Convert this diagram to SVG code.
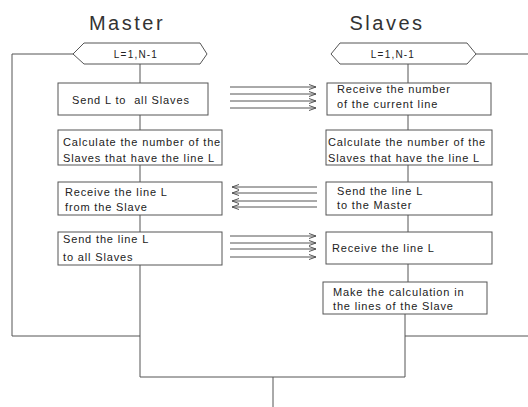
<svg xmlns="http://www.w3.org/2000/svg" width="528" height="407" viewBox="0 0 528 407">
<style>
.box{fill:#fff;stroke:#555;stroke-width:1}
.ln{fill:none;stroke:#555;stroke-width:1}
.ar{fill:none;stroke:#555;stroke-width:1}
.t{font-family:"Liberation Sans",Arial,sans-serif;font-size:11px;fill:#222;letter-spacing:0.85px}
.h{font-family:"Liberation Sans",Arial,sans-serif;font-size:10px;fill:#222;letter-spacing:1.2px}
.title{font-family:"Liberation Sans",Arial,sans-serif;font-size:20px;fill:#333;letter-spacing:2.5px}
</style>
<defs>
<marker id="ah" markerWidth="8" markerHeight="6" refX="7" refY="3" orient="auto" markerUnits="userSpaceOnUse">
<path d="M0,0.5 L7,3 L0,5.5" fill="none" stroke="#555" stroke-width="1"/>
</marker>
</defs>
<rect width="528" height="407" fill="#fff"/>
<text class="title" x="127" y="30" text-anchor="middle">Master</text>
<text class="title" x="387" y="30" text-anchor="middle">Slaves</text>

<g id="connectors">
<polyline class="ln" points="73,54 12,54 12,336 140,336"/>
<line class="ln" x1="140" y1="64" x2="140" y2="83"/>
<line class="ln" x1="140" y1="115" x2="140" y2="130"/>
<line class="ln" x1="140" y1="165" x2="140" y2="182"/>
<line class="ln" x1="140" y1="215" x2="140" y2="232"/>
<polyline class="ln" points="140,265 140,377 405,377"/>
<line class="ln" x1="273" y1="377" x2="273" y2="407"/>
<line class="ln" x1="476" y1="54" x2="528" y2="54"/>
<line class="ln" x1="408" y1="64" x2="408" y2="83"/>
<line class="ln" x1="408" y1="115" x2="408" y2="130"/>
<line class="ln" x1="408" y1="165" x2="408" y2="182"/>
<line class="ln" x1="408" y1="215" x2="408" y2="232"/>
<line class="ln" x1="408" y1="264" x2="408" y2="282"/>
<line class="ln" x1="405" y1="314" x2="405" y2="377"/>
<line class="ln" x1="405" y1="336" x2="528" y2="336"/>
<g class="ar" marker-end="url(#ah)">
<line x1="230" y1="87" x2="316" y2="87"/>
<line x1="230" y1="94" x2="316" y2="94"/>
<line x1="230" y1="101" x2="316" y2="101"/>
<line x1="230" y1="108" x2="316" y2="108"/>
<line x1="317" y1="187" x2="232" y2="187"/>
<line x1="317" y1="193" x2="232" y2="193"/>
<line x1="317" y1="201" x2="232" y2="201"/>
<line x1="317" y1="207" x2="232" y2="207"/>
<line x1="230" y1="236" x2="316" y2="236"/>
<line x1="230" y1="243" x2="316" y2="243"/>
<line x1="230" y1="249" x2="316" y2="249"/>
<line x1="230" y1="257" x2="316" y2="257"/>
</g>
</g>

<g id="m-loop">
<polygon class="box" points="73,54 84,43 200,43 207,54 200,64 84,64"/>
<text class="h" x="136" y="58" text-anchor="middle">L=1,N-1</text>
</g>
<g id="m-send">
<rect class="box" x="58" y="83" width="150" height="32"/>
<text class="t" x="72" y="104" xml:space="preserve">Send L to  all Slaves</text>
</g>
<g id="m-calc">
<rect class="box" x="58" y="130" width="164" height="35"/>
<text class="t" x="63" y="146">Calculate the number of the</text>
<text class="t" x="63" y="162">Slaves that have the line L</text>
</g>
<g id="m-recv">
<rect class="box" x="58" y="182" width="164" height="33"/>
<text class="t" x="65" y="196">Receive the line L</text>
<text class="t" x="65" y="211">from the Slave</text>
</g>
<g id="m-sendline">
<rect class="box" x="58" y="232" width="164" height="33"/>
<text class="t" x="63" y="243">Send the line L</text>
<text class="t" x="63" y="261">to all Slaves</text>
</g>

<g id="s-loop">
<polygon class="box" points="331,54 340,43 467,43 476,54 467,64 340,64"/>
<text class="h" x="393" y="58" text-anchor="middle">L=1,N-1</text>
</g>
<g id="s-recvnum">
<rect class="box" x="327" y="83" width="164" height="32"/>
<text class="t" x="337" y="93">Receive the number</text>
<text class="t" x="337" y="108">of the current line</text>
</g>
<g id="s-calc">
<rect class="box" x="326" y="130" width="166" height="35"/>
<text class="t" x="328" y="146">Calculate the number of the</text>
<text class="t" x="328" y="162">Slaves that have the line L</text>
</g>
<g id="s-send">
<rect class="box" x="326" y="182" width="166" height="33"/>
<text class="t" x="337" y="195">Send the line L</text>
<text class="t" x="337" y="209">to the Master</text>
</g>
<g id="s-recv">
<rect class="box" x="326" y="232" width="166" height="32"/>
<text class="t" x="332" y="252">Receive the line L</text>
</g>
<g id="s-make">
<rect class="box" x="323" y="282" width="164" height="32"/>
<text class="t" x="333" y="296">Make the calculation in</text>
<text class="t" x="333" y="310">the lines of the Slave</text>
</g>
</svg>
